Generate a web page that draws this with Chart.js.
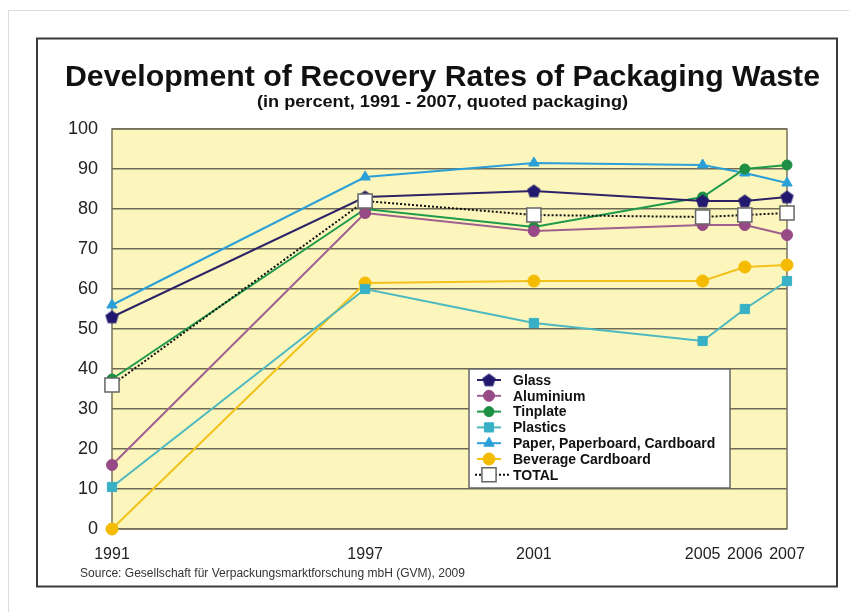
<!DOCTYPE html>
<html>
<head>
<meta charset="utf-8">
<title>Recovery Rates of Packaging Waste</title>
<script src="https://cdn.jsdelivr.net/npm/chart.js@4.4.1/dist/chart.umd.min.js"></script>
<style>
	body { margin: 0; background: #fff; }
	#chart { display: block; }
</style>
</head>
<body>
<canvas id="chart" width="849" height="612"></canvas>
<script>
// values (percent)
var years = [1991, 1997, 2001, 2005, 2006, 2007];
var yTicks = [0, 10, 20, 30, 40, 50, 60, 70, 80, 90, 100];
var glass = [53, 83, 84.5, 82, 82, 83];
var aluminium = [16, 79, 74.5, 76, 76, 73.5];
var tinplate = [37.5, 80, 75.5, 83, 90, 91];
var plastics = [10.5, 60, 51.5, 47, 55, 62];
var paper = [56, 88, 91.5, 91, 89, 86.5];
var beverage = [0, 61.5, 62, 62, 65.5, 66];
var total = [36, 82, 78.5, 78, 78.5, 79];

var FONT = "'Liberation Sans', Arial, sans-serif";

function pts(arr) {
	return arr.map(function(v, i) { return {x: years[i], y: v}; });
}

// pentagon marker for glass
var penta = document.createElement('canvas');
penta.width = 15;
penta.height = 15;
(function() {
	var c = penta.getContext('2d');
	c.beginPath();
	for (var i = 0; i < 5; i++) {
		var a = -Math.PI / 2 + i * 2 * Math.PI / 5;
		c.lineTo(7.5 + 7 * Math.cos(a), 8 + 7 * Math.sin(a));
	}
	c.closePath();
	c.fillStyle = '#22186e';
	c.fill();
})();

function line(label, data, color, mColor, style, r) {
	return {
		label: label,
		data: pts(data),
		borderColor: color,
		backgroundColor: mColor,
		borderWidth: 2,
		pointStyle: style,
		pointRadius: r,
		pointBackgroundColor: mColor,
		pointBorderColor: mColor,
		pointBorderWidth: 1,
		tension: 0,
		clip: false,
		order: 1
	};
}

var datasets = [
	line('Glass', glass, '#2d2366', '#22186e', penta, 7),
	line('Aluminium', aluminium, '#a0608e', '#974a86', 'circle', 5.5),
	line('Tinplate', tinplate, '#1f9a4a', '#1c8f45', 'circle', 5),
	line('Plastics', plastics, '#4db8c0', '#38b0c6', 'rect', 6.5),
	line('Paper, Paperboard, Cardboard', paper, '#2a9fd8', '#2a9fd8', 'triangle', 6),
	line('Beverage Cardboard', beverage, '#f2c21a', '#f5bb00', 'circle', 6),
	{
		label: 'TOTAL',
		data: pts(total),
		borderColor: '#111',
		borderDash: [2, 2],
		borderWidth: 2,
		pointStyle: 'rect',
		pointRadius: 10,
		pointBackgroundColor: '#fff',
		pointBorderColor: '#666',
		pointBorderWidth: 1.5,
		tension: 0,
		clip: false,
		order: 0
	}
];

function fitText(ctx, text, x, y, w) {
	var m = ctx.measureText(text).width;
	ctx.save();
	ctx.translate(x, y);
	ctx.scale(w / m, 1);
	ctx.fillText(text, 0, 0);
	ctx.restore();
}

// frame, yellow plot area, titles
var decor = {
	id: 'decor',
	beforeDraw: function(chart) {
		var ctx = chart.ctx, a = chart.chartArea;
		ctx.save();
		ctx.fillStyle = '#fff';
		ctx.fillRect(0, 0, chart.width, chart.height);
		ctx.strokeStyle = '#dcdcdc';
		ctx.lineWidth = 1;
		ctx.strokeRect(8.5, 10.5, 900, 700);
		ctx.strokeStyle = '#3a3a3a';
		ctx.lineWidth = 2;
		ctx.strokeRect(37, 38.5, 800, 548);
		ctx.fillStyle = '#fcf6bd';
		ctx.fillRect(a.left, a.top, a.right - a.left, a.bottom - a.top);

		ctx.fillStyle = '#111';
		ctx.textAlign = 'left';
		ctx.textBaseline = 'alphabetic';
		ctx.font = 'bold 30px ' + FONT;
		fitText(ctx, 'Development of Recovery Rates of Packaging Waste', 65, 86, 755);
		ctx.font = 'bold 17px ' + FONT;
		fitText(ctx, '(in percent, 1991 - 2007, quoted packaging)', 257, 107, 371);
		ctx.fillStyle = '#333';
		ctx.font = '12px ' + FONT;
		fitText(ctx, 'Source: Gesellschaft für Verpackungsmarktforschung mbH (GVM), 2009', 80, 577, 385);
		ctx.restore();
	},
	beforeDatasetsDraw: function(chart) {
		var ctx = chart.ctx, a = chart.chartArea;
		ctx.save();
		ctx.strokeStyle = '#77735c';
		ctx.lineWidth = 1.5;
		ctx.strokeRect(a.left, a.top, a.right - a.left, a.bottom - a.top);
		ctx.restore();
	}
};

// legend box inside the plot
var legendBox = {
	id: 'legendBox',
	afterDraw: function(chart) {
		var ctx = chart.ctx;
		var x0 = 469, y0 = 369, w = 261, h = 119;
		ctx.save();
		ctx.fillStyle = '#fff';
		ctx.fillRect(x0, y0, w, h);
		ctx.strokeStyle = '#666';
		ctx.lineWidth = 1.5;
		ctx.strokeRect(x0, y0, w, h);
		chart.data.datasets.forEach(function(ds, i) {
			var y = 380 + i * 15.8;
			ctx.save();
			ctx.strokeStyle = ds.borderColor;
			ctx.lineWidth = 2;
			ctx.setLineDash(ds.borderDash || []);
			ctx.beginPath();
			if (ds.label === 'TOTAL') {
				ctx.moveTo(475, y);
				ctx.lineTo(511, y);
			} else {
				ctx.moveTo(477, y);
				ctx.lineTo(501, y);
			}
			ctx.stroke();
			ctx.setLineDash([]);
			ctx.fillStyle = ds.pointBackgroundColor;
			ctx.strokeStyle = ds.pointBorderColor;
			ctx.lineWidth = ds.pointBorderWidth;
			Chart.helpers.drawPoint(ctx, {pointStyle: ds.pointStyle, radius: ds.pointRadius, rotation: 0, borderWidth: ds.pointBorderWidth}, 489, y);
			ctx.restore();
			ctx.fillStyle = '#111';
			ctx.font = 'bold 14px ' + FONT;
			ctx.textAlign = 'left';
			ctx.textBaseline = 'middle';
			ctx.fillText(ds.label, 513, y + 1);
		});
		ctx.restore();
	}
};

var chart = new Chart(document.getElementById('chart'), {
	type: 'line',
	data: { datasets: datasets },
	plugins: [decor, legendBox],
	options: {
		responsive: false,
		animation: false,
		events: [],
		layout: { padding: { left: 40, right: 62, top: 129, bottom: 43 } },
		plugins: {
			legend: { display: false },
			tooltip: { enabled: false }
		},
		scales: {
			x: {
				type: 'linear',
				min: years[0],
				max: years[years.length - 1],
				afterBuildTicks: function(s) {
					s.ticks = years.map(function(v) { return {value: v}; });
				},
				afterFit: function(s) { s.height = 40; },
				grid: { display: false },
				border: { display: false },
				ticks: {
					autoSkip: false,
					maxRotation: 0,
					padding: 8,
					color: '#222',
					font: { family: FONT, size: 16 },
					callback: function(v) { return String(v); }
				}
			},
			y: {
				min: 0,
				max: 100,
				afterBuildTicks: function(s) {
					s.ticks = yTicks.map(function(v) { return {value: v}; });
				},
				afterFit: function(s) { s.width = 72; },
				grid: { color: '#6e6a55', lineWidth: 1.5, drawTicks: false },
				border: { display: false },
				ticks: {
					padding: 14,
					color: '#222',
					font: { family: FONT, size: 18 }
				}
			}
		}
	}
});
</script>
</body>
</html>
